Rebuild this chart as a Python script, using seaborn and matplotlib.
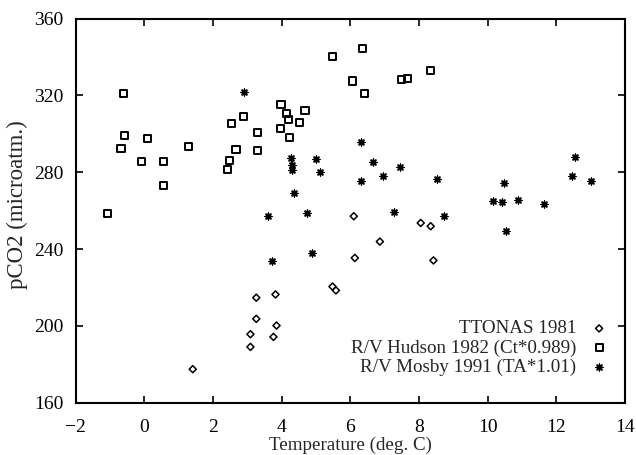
import matplotlib
matplotlib.use("Agg")
import matplotlib.pyplot as plt
import seaborn as sns
import pandas as pd

# TTONAS 1981
ttonas_t = [1.41, 3.09, 3.09, 3.26, 3.26, 3.82, 3.85, 3.76, 5.48, 5.58, 6.10, 6.13, 6.86, 8.05, 8.34, 8.42]
ttonas_p = [177.5, 189.1, 195.7, 203.7, 214.7, 216.4, 200.2, 194.3, 220.5, 218.5, 257.1, 235.4, 243.9, 253.6, 251.9, 234.1]

# R/V Hudson 1982 (Ct*0.989)
hudson_t = [-1.08, -0.60, -0.57, -0.68, 0.09, -0.09, 0.56, 0.56, 1.28, 2.54, 2.89, 2.67, 2.49, 2.43,
            3.30, 3.29, 3.98, 4.14, 4.19, 4.68, 4.51, 3.96, 4.24, 5.49, 6.36, 6.06, 6.41, 7.48, 7.66, 8.34]
hudson_p = [258.3, 320.9, 299.3, 292.5, 297.6, 285.6, 285.6, 273.0, 293.3, 305.6, 309.2, 291.7, 286.3, 281.6,
            300.6, 291.5, 315.3, 310.5, 307.5, 312.0, 306.1, 302.8, 298.0, 340.2, 344.6, 327.5, 321.1, 328.4, 328.9, 333.1]

# R/V Mosby 1991 (TA*1.01)
mosby_t = [2.89, 6.30, 4.28, 4.29, 4.31, 5.01, 5.12, 6.66, 6.96, 7.46, 6.31, 8.51, 4.35, 12.55,
           12.47, 13.02, 10.49, 10.16, 10.42, 10.87, 11.63, 10.52, 8.72, 3.60, 4.75, 7.27, 3.73, 4.87]
mosby_p = [322.0, 295.7, 287.2, 284.0, 281.3, 287.0, 280.2, 285.3, 277.8, 282.5, 275.2, 276.4, 269.3, 287.7,
           278.1, 275.5, 274.3, 264.9, 264.4, 265.6, 263.3, 249.3, 257.4, 257.4, 258.6, 259.2, 234.0, 237.8]

labels = ["TTONAS 1981", "R/V Hudson 1982 (Ct*0.989)", "R/V Mosby 1991 (TA*1.01)"]
x_ticks = [-2, 0, 2, 4, 6, 8, 10, 12, 14]
y_ticks = [160, 200, 240, 280, 320, 360]

sns.set_style("ticks")
plt.rcParams["font.family"] = ["Liberation Serif", "DejaVu Serif"]

FS = 13.7
TFS = 14

fig = plt.figure(figsize=(6.36, 4.55), dpi=100)
ax = fig.add_axes([0.1190, 0.1147, 0.8637, 0.8446])

df_t = pd.DataFrame({"t": ttonas_t, "p": ttonas_p})
df_h = pd.DataFrame({"t": hudson_t, "p": hudson_p})
df_m = pd.DataFrame({"t": mosby_t, "p": mosby_p})

sns.scatterplot(data=df_t, x="t", y="p", ax=ax, marker="D", s=13, facecolor="none",
                edgecolor="black", linewidth=1.1, label=labels[0])
sns.scatterplot(data=df_h, x="t", y="p", ax=ax, marker="s", s=26, facecolor="none",
                edgecolor="black", linewidth=1.4, label=labels[1])
sns.scatterplot(data=df_m, x="t", y="p", ax=ax, marker=(8, 2, 0), s=24, color="black",
                edgecolor="black", linewidth=1.0, label=labels[2])

ax.set_xlim(-2, 14)
ax.set_ylim(160, 360)
ax.set_xticks(x_ticks)
ax.set_yticks(y_ticks)
ax.set_xticklabels(["\u22122" if v == -2 else str(v) for v in x_ticks])
ax.set_xlabel("Temperature (deg. C)", fontsize=FS, labelpad=0)
ax.set_ylabel("pCO2 (microatm.)", fontsize=16.5)
ax.yaxis.set_label_coords(-0.086, 0.516)
ax.tick_params(direction="in", length=5, width=1.2, top=True, right=True, labelsize=TFS,
               colors="black")
ax.tick_params(axis="x", pad=12)
ax.tick_params(axis="y", pad=9)
for sp in ax.spines.values():
    sp.set_visible(True)
    sp.set_linewidth(1.5)
    sp.set_color("black")

leg = ax.legend(loc="lower right", frameon=False, markerfirst=False, fontsize=FS,
                handletextpad=0.7, labelspacing=0.1, borderaxespad=0.0, handlelength=1.0,
                bbox_to_anchor=(0.984, 0.05))

fig.savefig("out.png", dpi=100)
